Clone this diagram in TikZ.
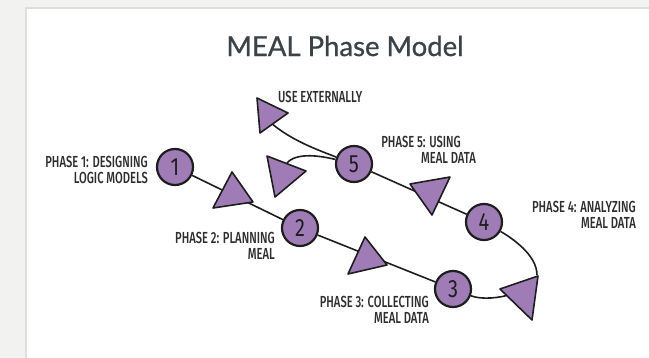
\documentclass[tikz,border=0pt]{standalone}
\usepackage{fontspec}
\setmainfont{Lato}
\newfontfamily\handfont{Fira Sans Medium}[FakeStretch=0.70]
\newfontfamily\digitfont{Fira Sans}[FakeStretch=0.8]
\newfontfamily\titlefont{Lato}[FakeBold=0.8]
\definecolor{bggray}{HTML}{F2F2F0}
\definecolor{cardedge}{HTML}{DEDEDC}
\definecolor{mealpurple}{HTML}{A07CB6}
\definecolor{inkdark}{HTML}{1E1E1E}
\definecolor{labelgray}{HTML}{2E2E2E}
\definecolor{titlegray}{HTML}{3C4348}
\tikzset{
  phase/.style={circle, draw=inkdark, line width=2.2pt, fill=mealpurple,
    minimum size=36pt, inner sep=0pt, font=\digitfont\fontsize{25}{25}\selectfont, text=inkdark},
  flow/.style={draw=inkdark, line width=1.6pt},
  head/.style={draw=inkdark, line width=1.6pt, fill=mealpurple, line join=round},
  lbl/.style={font=\handfont\fontsize{16}{16}\selectfont, text=labelgray, inner sep=0pt, align=right}
}
\begin{document}
\begin{tikzpicture}[x=1pt, y=-1pt]
\useasboundingbox (0,0) rectangle (649,358);
\fill[bggray] (0,0) rectangle (649,358);
\draw[cardedge, line width=1.5pt, fill=white] (26,8) rectangle (680,380);
\node[font=\titlefont\fontsize{27.5}{27.5}\selectfont, text=titlegray] (title) at (345,46) {MEAL Phase Model};

% phase circles
\node[phase] (c1) at (175,167) {1};
\node[phase] (c2) at (300,228) {2};
\node[phase] (c3) at (453,289) {3};
\node[phase] (c4) at (484,222) {4};
\node[phase] (c5) at (354,164) {5};

% free ends
\coordinate (t3top) at (537,275);
\coordinate (t3in) at (512,294);
\coordinate (loopend) at (284,170);
\coordinate (extend) at (270,122);

% connectors
\draw[flow] (c1) -- (c2);
\draw[flow] (c2) -- (c3);
\draw[flow] (c3) .. controls (482,300) and (500,298) .. (t3in);
\draw[flow] (c4) .. controls (512,238) and (537,255) .. (t3top);
\draw[flow] (c4) -- (c5);
\draw[flow] (c5) .. controls (305,152) and (286,156) .. (loopend);
\draw[flow] (c5) .. controls (318,150) and (290,140) .. (extend);

% arrowheads
\draw[head] (232,172) -- (253,202) -- (213,208) -- cycle;
\draw[head] (365,237) -- (387,265) -- (348,274) -- cycle;
\draw[head] (538,276) -- (532,320) -- (500,289) -- cycle;
\draw[head] (450,177) -- (432,215) -- (410,184) -- cycle;
\draw[head] (267,156) -- (275,197) -- (306,171) -- cycle;
\draw[head] (257,98) -- (288,113) -- (260,133) -- cycle;

% labels
\node[lbl, anchor=east] (l1) at (148,170) {PHASE 1: DESIGNING\\LOGIC MODELS};
\node[lbl, anchor=east] (l2) at (275,246) {PHASE 2: PLANNING\\MEAL};
\node[lbl, anchor=east] (l3) at (429,310) {PHASE 3: COLLECTING\\MEAL DATA};
\node[lbl, anchor=east] (l4) at (636,215) {PHASE 4: ANALYZING\\MEAL DATA};
\node[lbl, anchor=east] (l5) at (476,150) {PHASE 5: USING\hspace*{15pt}\\MEAL DATA};
\node[lbl, anchor=west] (lx) at (278,97) {USE EXTERNALLY};
\end{tikzpicture}
\end{document}
